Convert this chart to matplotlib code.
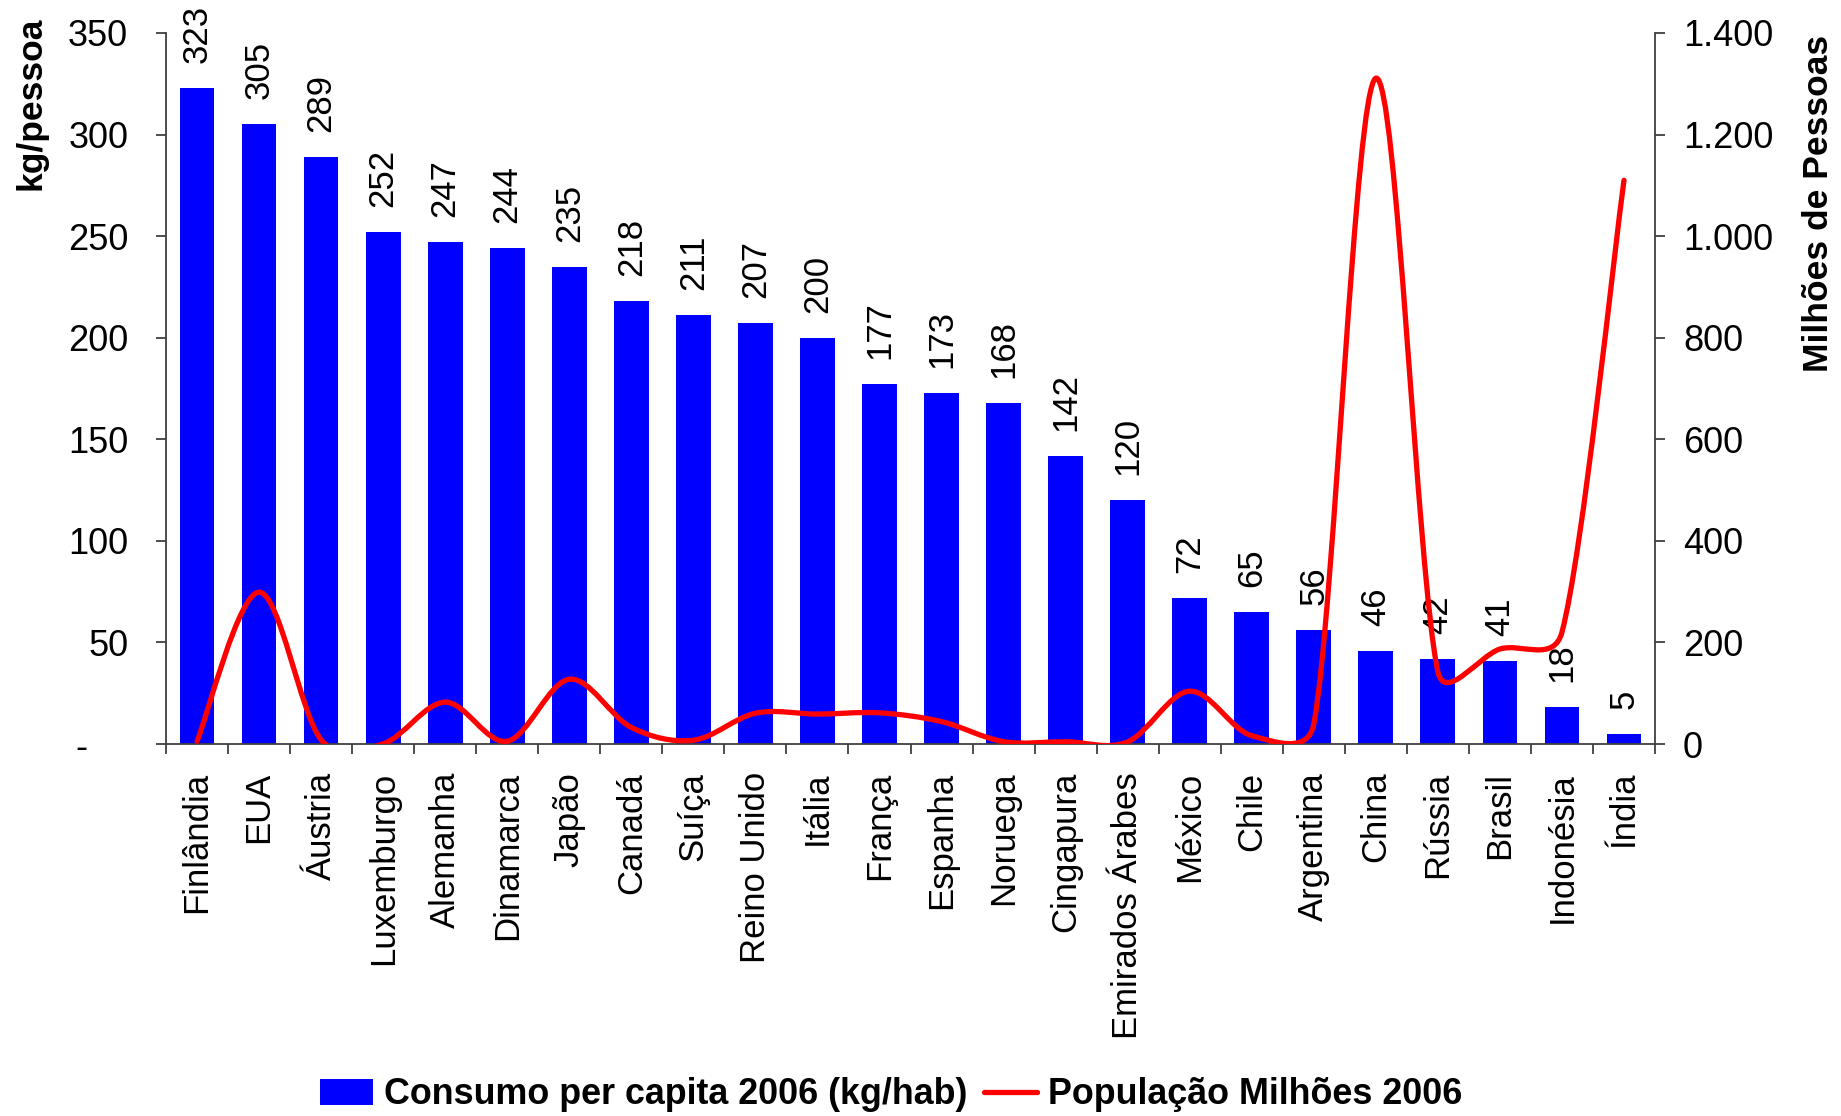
import matplotlib
matplotlib.use('Agg')
import matplotlib.pyplot as plt
from matplotlib.path import Path
from matplotlib.patches import PathPatch, Patch
from matplotlib.lines import Line2D
from matplotlib.ticker import FixedLocator, FuncFormatter
from matplotlib.transforms import ScaledTranslation
import numpy as np

plt.rcParams['font.family'] = ['Liberation Sans', 'DejaVu Sans']

paises = ['Finlândia', 'EUA', 'Áustria', 'Luxemburgo', 'Alemanha', 'Dinamarca',
          'Japão', 'Canadá', 'Suíça', 'Reino Unido', 'Itália', 'França',
          'Espanha', 'Noruega', 'Cingapura', 'Emirados Árabes', 'México',
          'Chile', 'Argentina', 'China', 'Rússia', 'Brasil', 'Indonésia', 'Índia']
consumo = [323, 305, 289, 252, 247, 244, 235, 218, 211, 207, 200, 177,
           173, 168, 142, 120, 72, 65, 56, 46, 42, 41, 18, 5]
populacao = [5.3, 299, 8.3, 0.5, 82.4, 5.4, 127.5, 32.6, 7.5, 60.6, 58.9, 61.3,
             44.1, 4.7, 4.5, 4.2, 104, 16.4, 39, 1311, 142.5, 187, 220, 1110]

AZUL = '#0000FF'
VERMELHO = '#FF0000'
EIXO = '#404040'

W, H = 1841, 1116
fig = plt.figure(figsize=(W / 100, H / 100), dpi=100)
ax = fig.add_axes([166 / W, 1 - 744 / H, (1655 - 166) / W, (744 - 33) / H])
ax2 = ax.twinx()

x = np.arange(len(paises))
ax.bar(x, consumo, width=0.56, color=AZUL, zorder=2)
for xi, v in zip(x, consumo):
    ax.annotate(str(v), (xi, v), xytext=(0, 18), textcoords='offset points',
                rotation=90, ha='center', va='bottom', fontsize=25)

ax.set_xlim(-0.5, len(paises) - 0.5)
ax.set_ylim(0, 350)
ax2.set_xlim(-0.5, len(paises) - 0.5)
ax2.set_ylim(0, 1400)


def linha_suave(axe, xs, ys):
    """Curva bezier no estilo da 'linha suavizada' do Excel: tangentes de
    Catmull-Rom (1/6), limitadas a meio segmento, calculadas em pixels."""
    pts = axe.transData.transform(np.column_stack([xs, ys]))
    n = len(pts)
    verts = [pts[0]]
    codes = [Path.MOVETO]
    for i in range(n - 1):
        p0, p1 = pts[max(i - 1, 0)], pts[i]
        p2, p3 = pts[i + 1], pts[min(i + 2, n - 1)]
        meio = np.hypot(*(p2 - p1)) / 2
        t1 = (p2 - p0) / 6
        t2 = (p3 - p1) / 6
        if np.hypot(*t1) > meio:
            t1 = t1 * meio / np.hypot(*t1)
        if np.hypot(*t2) > meio:
            t2 = t2 * meio / np.hypot(*t2)
        verts += [p1 + t1, p2 - t2, p2]
        codes += [Path.CURVE4] * 3
    dados = axe.transData.inverted().transform(np.array(verts))
    return Path(dados, codes)


ax2.add_patch(PathPatch(linha_suave(ax2, x.astype(float), populacao), fill=False,
                        edgecolor=VERMELHO, lw=3.8, joinstyle='round', capstyle='round'))

# eixos
ax.spines['top'].set_visible(False)
ax2.spines['top'].set_visible(False)
ax.spines['right'].set_visible(False)
ax2.spines['left'].set_visible(False)
ax2.spines['bottom'].set_visible(False)
for sp in (ax.spines['left'], ax.spines['bottom'], ax2.spines['right']):
    sp.set_color(EIXO)
    sp.set_linewidth(1.3)

ax.xaxis.set_major_locator(FixedLocator(x))
ax.xaxis.set_minor_locator(FixedLocator(np.arange(-0.5, len(paises), 1.0)))
ax.set_xticklabels(paises, rotation=90, fontsize=25)
ax.tick_params(axis='x', which='major', length=0, pad=20)
ax.tick_params(axis='x', which='minor', length=7.2, width=1.3, color=EIXO)

ax.yaxis.set_major_locator(FixedLocator(np.arange(0, 351, 50)))
ax.yaxis.set_major_formatter(FuncFormatter(lambda v, p: '-' if v == 0 else f'{v:.0f}'))
ax.tick_params(axis='y', length=7.2, width=1.3, color=EIXO, labelsize=26, pad=20)

ax2.yaxis.set_major_locator(FixedLocator(np.arange(0, 1401, 200)))
ax2.yaxis.set_major_formatter(FuncFormatter(lambda v, p: f'{v:,.0f}'.replace(',', '.')))
ax2.tick_params(axis='y', length=7.2, width=1.3, color=EIXO, labelsize=26, pad=13)

fig.canvas.draw()
zero = ax.yaxis.get_major_ticks()[0].label1
zero.set_transform(zero.get_transform() + ScaledTranslation(-0.41, 0, fig.dpi_scale_trans))

fig.text(31 / W, 1 - 103 / H, 'kg/pessoa', rotation=90, ha='center', va='center',
         fontsize=25.5, fontweight='bold')
fig.text(1818 / W, 1 - 203 / H, 'Milhões de Pessoas', rotation=90, ha='center',
         va='center', fontsize=25.5, fontweight='bold')

handles = [Patch(facecolor=AZUL, edgecolor='none'),
           Line2D([], [], color=VERMELHO, lw=3.8, solid_capstyle='round')]
fig.legend(handles, ['Consumo per capita 2006 (kg/hab)', 'População Milhões 2006'],
           loc='center', bbox_to_anchor=(0.484, 1 - 1095 / H), ncol=2, frameon=False,
           prop={'weight': 'bold', 'size': 25.8}, handlelength=1.5, handleheight=0.7,
           handletextpad=0.3, columnspacing=0.45, borderpad=0)

fig.savefig('out.png', dpi=100)
